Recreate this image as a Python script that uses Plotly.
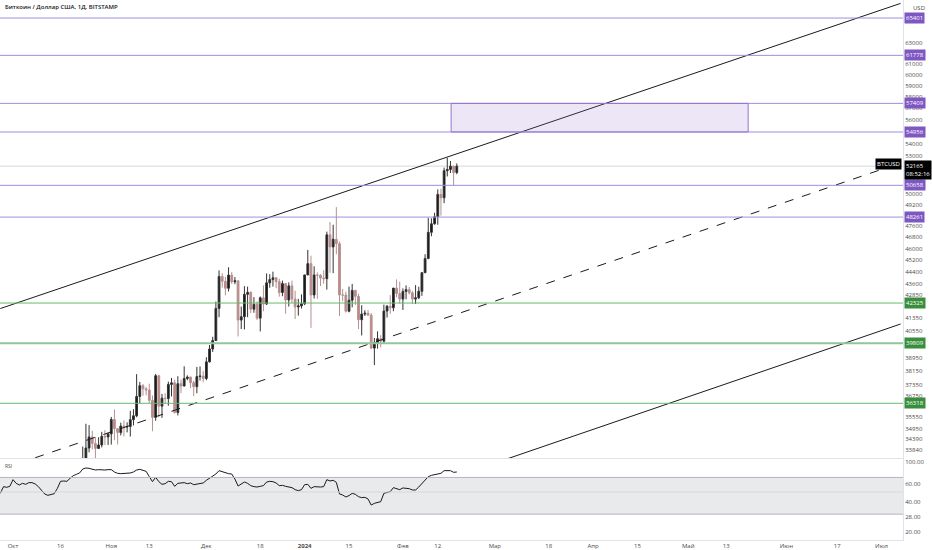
import numpy as np
import pandas as pd
import plotly.graph_objects as go

# ---------------- data ----------------
candle_start = "2023-10-20"
opens = [28710, 29680, 29910, 29990, 33080, 33920, 34500, 34160, 33900, 34080, 34530, 34500,
         34660, 35430, 34940, 34730, 35080, 35030, 35050, 35420, 35630, 36700, 37310, 37130,
         37060, 36480, 35550, 37880, 36160, 36600, 36580, 37380, 37470, 35810, 37420, 37290,
         37720, 37800, 37480, 37250, 37830, 37860,
         37720, 38690, 39460, 39970, 41980, 44080, 43750, 43290, 44170, 43720, 43790, 41240,
         41450, 42890, 43020, 41930, 42240, 41360, 42660, 42260, 43650, 43870, 43990, 43730,
         43010, 43600, 42520, 43450, 42590, 42070, 42140,
         42280, 44180, 44950, 42850, 44180, 44160, 43970, 43930, 46970, 46110, 46650, 46340,
         42850, 42840, 41800, 42510, 43150, 42760, 41260, 41620, 41670, 41550, 39510, 39850,
         40080, 39930, 41810, 42120, 42020, 43300, 42950,
         42580, 43080, 43200, 42990, 42580, 42660, 43090, 44330, 45300, 47150, 47770, 48290,
         49960, 49700, 51800, 51900, 52160, 51660]
highs = [30200, 30330, 30200, 34000, 35200, 35130, 34830, 34500, 34480, 34770, 34860, 34720,
         35570, 35980, 34950, 35260, 35380, 35280, 35900, 35990, 37970, 37520, 37400, 37230,
         37420, 36750, 37980, 37930, 36840, 36880, 37540, 37750, 37650, 37850, 37660, 38430,
         37900, 37830, 37590, 38390, 38420, 38160,
         38970, 39700, 40200, 42420, 44490, 44300, 44050, 44700, 44370, 44040, 43800, 42100,
         43430, 43400, 43090, 42710, 42430, 42750, 43480, 44280, 44230, 44400, 44030, 43930,
         43800, 43600, 43680, 43800, 43130, 42600, 42890,
         44190, 45900, 45500, 44770, 44350, 44230, 44500, 47200, 47900, 47700, 49000, 46500,
         43250, 43070, 43400, 43580, 43200, 42930, 42180, 41870, 41880, 41690, 40130, 40530,
         40300, 42220, 42200, 42840, 43310, 43880, 43730,
         43280, 43480, 43380, 43110, 43500, 43390, 44380, 45600, 48200, 48170, 48580, 50340,
         50400, 52050, 52830, 52580, 52200, 52380]
lows = [28600, 29470, 29670, 29900, 32880, 33700, 33850, 33350, 33880, 33950, 34070, 34080,
        34100, 34330, 34100, 34580, 34530, 34740, 34520, 35110, 35550, 36330, 36740, 36760,
        36340, 34800, 35360, 35550, 35520, 36290, 36180, 36700, 35750, 35650, 36890, 37260,
        37620, 37170, 36720, 36880, 37600, 37500,
        37620, 38650, 39280, 39970, 41420, 43330, 42820, 43080, 43580, 43560, 40220, 40680,
        40650, 41420, 41680, 41700, 41250, 40530, 41800, 42200, 43330, 43400, 43300, 42740,
        42770, 41640, 42100, 42320, 41300, 41520, 41970,
        42190, 44170, 40750, 42620, 42600, 43440, 43590, 43200, 44330, 44300, 45600, 41500,
        42440, 41720, 41730, 42050, 42200, 40680, 40280, 41500, 41520, 39450, 38500, 39480,
        39550, 39800, 41400, 41640, 41800, 42700, 42290,
        41880, 42570, 42880, 42260, 42260, 42580, 42790, 44330, 45260, 46870, 47700, 47700,
        48370, 49300, 51350, 51620, 50650, 51520]
closes = [29680, 29910, 29990, 33080, 33920, 34500, 34160, 33900, 34080, 34530, 34500, 34660,
          35430, 34940, 34730, 35080, 35030, 35050, 35420, 35630, 36700, 37310, 37130, 37060,
          36480, 35550, 37880, 36160, 36600, 36580, 37380, 37470, 35810, 37420, 37290, 37720,
          37800, 37480, 37250, 37830, 37860, 37720,
          38690, 39460, 39970, 41980, 44080, 43750, 43290, 44170, 43720, 43790, 41240, 41450,
          42890, 43020, 41930, 42240, 41360, 42660, 42260, 43650, 43870, 43990, 43730, 43010,
          43600, 42520, 43450, 42590, 42070, 42140, 42280,
          44180, 44950, 42850, 44180, 44160, 43970, 43930, 46970, 46110, 46650, 46340, 42850,
          42840, 41800, 42510, 43150, 42760, 41260, 41620, 41670, 41550, 39510, 39850, 40080,
          39930, 41810, 42120, 42020, 43300, 42950, 42580,
          43080, 43200, 42990, 42580, 42660, 43090, 44330, 45300, 47150, 47770, 48290, 49960,
          49700, 51800, 51900, 52160, 51660, 52165]

rsi_start = "2023-09-27"
rsi_values = [48.5, 56.6, 55.7, 57.0, 66.5, 61.1, 58.8, 61.1, 59.7, 62.1, 62.1, 60.2, 56.6, 52.0,
              47.8, 46.3, 47.0, 48.1, 54.4, 64.0, 64.5, 64.0, 68.6, 72.9, 75.2, 77.6, 85.1, 87.1,
              86.4, 84.4, 83.1, 83.8, 83.1, 83.1, 83.8, 83.8, 79.4, 77.0, 76.4, 76.4, 77.0, 77.6,
              79.4, 83.1, 84.4, 83.1, 80.6, 71.3, 63.5, 70.2, 63.5, 59.7, 60.6, 64.0, 63.5, 57.0,
              61.1, 61.6, 62.1, 60.6, 61.6, 59.2, 60.2, 60.6, 61.6, 65.5, 68.6, 71.8, 75.8, 81.9,
              80.0, 77.0, 76.4, 75.8, 67.5, 57.4, 60.2, 63.0, 61.1, 57.9, 56.6, 56.1, 57.0, 57.9,
              63.0, 64.0, 63.5, 61.6, 57.9, 58.3, 57.0, 56.1, 55.3, 52.8, 51.6, 52.8, 59.2, 59.7,
              54.4, 56.6, 56.1, 56.1, 56.6, 66.5, 64.5, 65.5, 62.5, 47.8, 46.7, 44.6, 46.0, 48.5,
              47.4, 44.9, 43.9, 44.2, 42.6, 37.0, 38.5, 39.1, 40.0, 48.5, 49.6, 50.4, 55.3, 53.6,
              52.8, 54.9, 54.4, 54.0, 52.4, 52.4, 56.1, 61.1, 67.0, 71.3, 73.5, 74.6, 77.0, 77.0,
              81.9, 82.5, 81.9, 78.8, 79.4]

# horizontal levels
resist_levels = [65401, 61778, 57409, 54956, 50658, 48261]
support_levels = [42325, 39809, 36318]
last_price = 52165
countdown = "08:52:16"
symbol = "BTCUSD"

# zone rectangle
zone_dates = ["2024-02-16 05:00", "2024-05-19 22:00"]
zone_prices = [54956, 57409]

# trend lines (date, price)
upper_line_dates = ["2023-09-27", "2024-07-07"]
upper_line_prices = [41970, 66880]
mid_line_dates = ["2023-10-08", "2024-07-07"]
mid_line_prices = [33420, 52420]
lower_line_dates = ["2024-03-05", "2024-07-07"]
lower_line_prices = [33370, 40990]

price_ticks = [63000, 61000, 60000, 59000, 58000, 57000, 56000, 54000, 53000, 51000, 50000,
               49200, 47600, 46800, 46000, 45200, 44400, 43600, 42850, 41350, 40550, 38950,
               38150, 37350, 36750, 35550, 34950, 34390, 33840]
rsi_ticks = [100, 60, 40, 28, 20]
rsi_band = [30, 50, 70]

time_tick_dates = ["2023-10-01", "2023-10-16", "2023-11-01", "2023-11-13", "2023-12-01",
                   "2023-12-18", "2024-01-01", "2024-01-15", "2024-02-01", "2024-02-12",
                   "2024-03-01", "2024-03-18", "2024-04-01", "2024-04-15", "2024-05-01",
                   "2024-05-13", "2024-06-01", "2024-06-17", "2024-07-01"]
time_tick_text = ["Окт", "16", "Ноя", "13", "Дек", "18", "<b>2024</b>", "15", "Фев", "12",
                  "Мар", "18", "Апр", "15", "Май", "13", "Июн", "17", "Июл"]

title_text = "Биткоин / Доллар США, 1Д, BITSTAMP"

# ---------------- figure ----------------
candle_dates = pd.date_range(candle_start, periods=len(opens), freq="D")
rsi_dates = pd.date_range(rsi_start, periods=len(rsi_values), freq="D")

FONT = "Open Sans"
PURPLE_LINE = "#9d8fe0"
PURPLE_BOX = "#7e57c2"
GREEN_LINE = "#66bb6a"
GREEN_BOX = "#388e3c"
AXIS_LINE = "#e0e3eb"
TXT = "#4a4a4a"

fig = go.Figure()

fig.add_trace(go.Candlestick(
    x=candle_dates, open=opens, high=highs, low=lows, close=closes,
    xaxis="x", yaxis="y", whiskerwidth=0,
    increasing=dict(fillcolor="#141414", line=dict(color="#333333", width=1)),
    decreasing=dict(fillcolor="#cd8080", line=dict(color="#b39191", width=1)),
    showlegend=False, hoverinfo="skip"))

for dts, prs, dash in [(upper_line_dates, upper_line_prices, "solid"),
                       (mid_line_dates, mid_line_prices, "dash"),
                       (lower_line_dates, lower_line_prices, "solid")]:
    fig.add_trace(go.Scatter(x=pd.to_datetime(dts), y=prs, mode="lines", xaxis="x", yaxis="y",
                             line=dict(color="#1a1a1a", width=1, dash=dash),
                             showlegend=False, hoverinfo="skip"))

fig.add_trace(go.Scatter(x=rsi_dates, y=rsi_values, mode="lines", xaxis="x2", yaxis="y2",
                         line=dict(color="#1a1a1a", width=1), showlegend=False,
                         hoverinfo="skip"))

shapes = []
# RSI band
shapes.append(dict(type="rect", xref="x2 domain", x0=0, x1=1, yref="y2",
                   y0=rsi_band[0], y1=rsi_band[2], fillcolor="rgba(120,123,134,0.16)",
                   line=dict(width=0), layer="below"))
for lv, col in zip(rsi_band, ["#b2b5be", "#d6d8de", "#b2b5be"]):
    shapes.append(dict(type="line", xref="x2 domain", x0=0, x1=1, yref="y2", y0=lv, y1=lv,
                       line=dict(color=col, width=1)))
# last price line
shapes.append(dict(type="line", xref="x domain", x0=0, x1=1, yref="y", y0=last_price,
                   y1=last_price, line=dict(color="#d5d7dc", width=1), layer="below"))
# levels
for lv in resist_levels:
    shapes.append(dict(type="line", xref="x domain", x0=0, x1=1, yref="y", y0=lv, y1=lv,
                       line=dict(color=PURPLE_LINE, width=1)))
for lv in support_levels:
    w = 2 if lv == 39809 else 1
    col = "#93c596" if lv == 39809 else GREEN_LINE
    shapes.append(dict(type="line", xref="x domain", x0=0, x1=1, yref="y", y0=lv, y1=lv,
                       line=dict(color=col, width=w)))
# zone
shapes.append(dict(type="rect", xref="x", yref="y", x0=zone_dates[0], x1=zone_dates[1],
                   y0=zone_prices[0], y1=zone_prices[1],
                   fillcolor="rgba(149,117,205,0.18)", line=dict(color="#9575cd", width=1)))

annotations = []
for lv in resist_levels:
    annotations.append(dict(xref="paper", x=1, xanchor="left", xshift=1, yref="y",
                            y=np.log10(lv), yanchor="middle", text=str(lv), showarrow=False,
                            font=dict(family=FONT, size=6, color="white"),
                            bgcolor=PURPLE_BOX, borderpad=1))
for lv in support_levels:
    annotations.append(dict(xref="paper", x=1, xanchor="left", xshift=1, yref="y",
                            y=np.log10(lv), yanchor="middle", text=str(lv), showarrow=False,
                            font=dict(family=FONT, size=6, color="white"),
                            bgcolor=GREEN_BOX, borderpad=1))
annotations.append(dict(xref="paper", x=1, xanchor="left", xshift=1, yref="y",
                        y=np.log10(last_price), yanchor="top", yshift=6, align="left",
                        text=f"{last_price}<br>{countdown}", showarrow=False,
                        font=dict(family=FONT, size=6, color="white"),
                        bgcolor="#000000", borderpad=1))
annotations.append(dict(xref="paper", x=1, xanchor="right", xshift=-1, yref="y",
                        y=np.log10(last_price), yanchor="middle", yshift=2, text=symbol,
                        showarrow=False, font=dict(family=FONT, size=6, color="white"),
                        bgcolor="#000000", borderpad=1))
annotations.append(dict(xref="paper", x=0, xanchor="left", xshift=3, yref="paper", y=1,
                        yanchor="top", yshift=-1, text=title_text, showarrow=False,
                        font=dict(family=FONT, size=6, color="#131722", weight=600)))
annotations.append(dict(xref="paper", x=1, xanchor="left", xshift=8, yref="paper", y=1,
                        yanchor="top", yshift=-2, text="USD", showarrow=False,
                        font=dict(family=FONT, size=6, color=TXT)))
annotations.append(dict(xref="paper", x=0, xanchor="left", xshift=3, yref="paper", y=0.15,
                        yanchor="top", yshift=-2, text="RSI", showarrow=False,
                        font=dict(family=FONT, size=5, color=TXT)))

x_range = ["2023-09-26 21:36", "2024-07-07 18:14"]

fig.update_layout(
    width=932, height=550,
    margin=dict(l=0, r=29, t=0, b=10),
    paper_bgcolor="white", plot_bgcolor="white",
    showlegend=False, boxgap=0.2,
    font=dict(family=FONT, size=6, color=TXT),
    xaxis=dict(domain=[0, 1], anchor="y", range=x_range, showticklabels=False,
               rangeslider=dict(visible=False), showgrid=False, zeroline=False,
               showline=True, linecolor=AXIS_LINE, linewidth=1, ticks=""),
    yaxis=dict(domain=[0.1519, 1], anchor="x", type="log", range=[4.52386, 4.82754],
               side="right", tickvals=price_ticks, ticktext=[str(t) for t in price_ticks],
               showgrid=False, zeroline=False, showline=True, linecolor=AXIS_LINE,
               ticks="", tickfont=dict(family=FONT, size=6, color=TXT)),
    xaxis2=dict(domain=[0, 1], anchor="y2", range=x_range, tickvals=time_tick_dates,
                ticktext=time_tick_text, showgrid=False, zeroline=False, showline=True,
                linecolor=AXIS_LINE, ticks="", tickfont=dict(family=FONT, size=6, color=TXT)),
    yaxis2=dict(domain=[0, 0.15], anchor="x2", type="log", range=[1.2176, 2.0301],
                side="right", tickvals=rsi_ticks,
                ticktext=[f"{t:.2f}" for t in rsi_ticks], showgrid=False, zeroline=False,
                showline=True, linecolor=AXIS_LINE, ticks="",
                tickfont=dict(family=FONT, size=6, color=TXT)),
    shapes=shapes,
    annotations=annotations,
)

fig.write_html("out.html", config={"displayModeBar": False},
               post_script="document.body.style.margin='0';document.body.style.padding='0';"
                           "document.body.style.overflow='hidden';")
